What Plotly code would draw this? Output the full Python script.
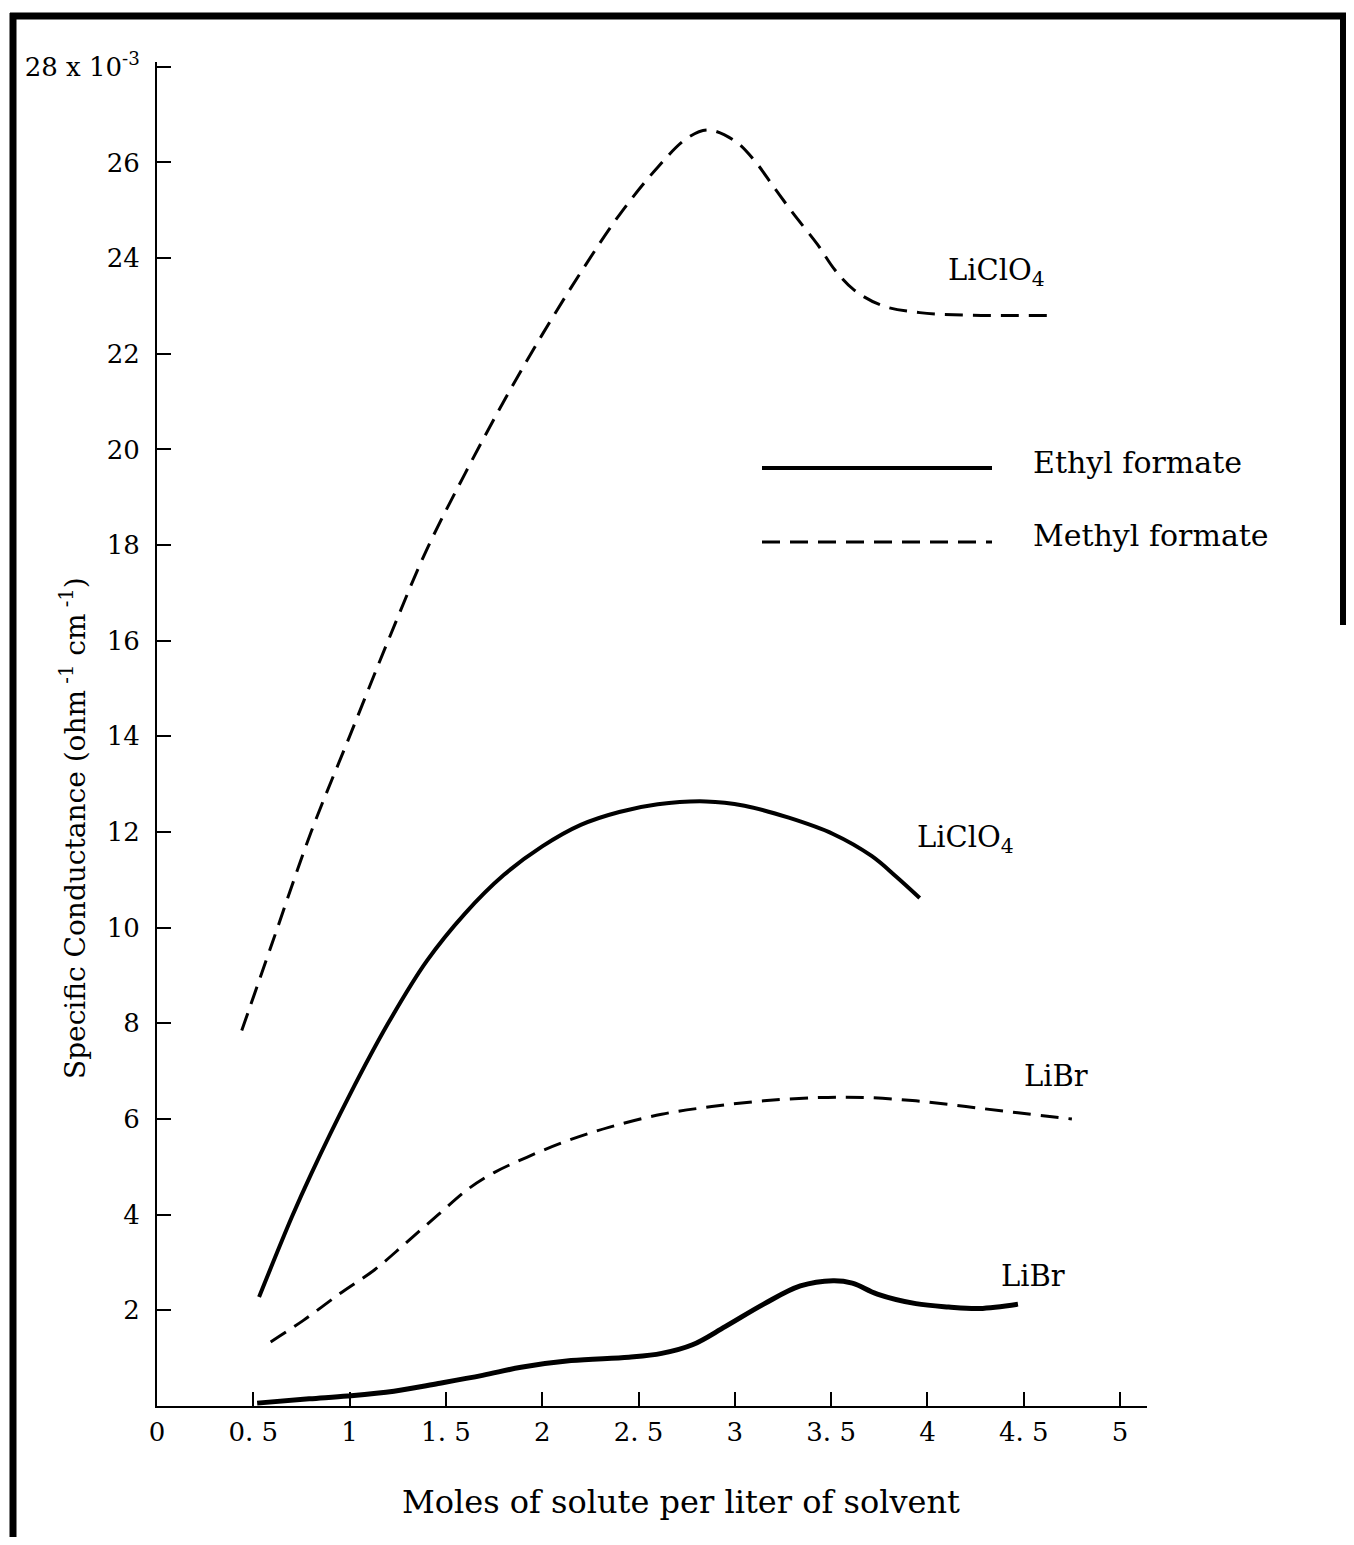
import plotly.graph_objects as go

# ---- data (x: moles of solute per liter, y: specific conductance x 1e-3) ----
methyl_liclo4_x = [0.44, 0.60, 0.80, 1.00, 1.20, 1.40, 1.60, 1.80, 2.00, 2.20, 2.40, 2.60, 2.75, 2.86, 3.00, 3.10, 3.20, 3.30, 3.43, 3.52, 3.62, 3.77, 3.96, 4.20, 4.65]
methyl_liclo4_y = [7.85, 9.7, 12.0, 14.0, 16.0, 17.9, 19.5, 21.0, 22.4, 23.7, 24.9, 25.9, 26.5, 26.68, 26.45, 26.05, 25.5, 24.95, 24.28, 23.75, 23.33, 23.0, 22.86, 22.81, 22.8]

ethyl_liclo4_x = [0.53, 0.70, 0.80, 1.00, 1.20, 1.40, 1.60, 1.80, 2.00, 2.20, 2.40, 2.60, 2.85, 3.05, 3.28, 3.51, 3.71, 3.84, 3.96]
ethyl_liclo4_y = [2.28, 3.95, 4.85, 6.5, 8.0, 9.3, 10.3, 11.1, 11.7, 12.15, 12.42, 12.58, 12.64, 12.55, 12.3, 11.96, 11.5, 11.06, 10.62]

methyl_libr_x = [0.59, 0.76, 0.96, 1.13, 1.29, 1.46, 1.62, 1.75, 1.92, 2.12, 2.35, 2.62, 2.88, 3.15, 3.44, 3.68, 3.94, 4.20, 4.47, 4.75]
methyl_libr_y = [1.34, 1.79, 2.38, 2.85, 3.4, 4.0, 4.55, 4.88, 5.2, 5.53, 5.83, 6.1, 6.26, 6.38, 6.45, 6.45, 6.38, 6.26, 6.13, 6.0]

ethyl_libr_x = [0.52, 0.79, 0.99, 1.23, 1.46, 1.69, 1.89, 2.15, 2.45, 2.62, 2.78, 2.95, 3.15, 3.34, 3.51, 3.61, 3.74, 3.94, 4.11, 4.27, 4.47]
ethyl_libr_y = [0.06, 0.15, 0.21, 0.31, 0.47, 0.64, 0.81, 0.95, 1.02, 1.1, 1.28, 1.66, 2.13, 2.51, 2.62, 2.57, 2.34, 2.14, 2.07, 2.04, 2.13]

x_tickvals = [0, 0.5, 1, 1.5, 2, 2.5, 3, 3.5, 4, 4.5, 5]
x_ticktext = ["0", "0. 5", "1", "1. 5", "2", "2. 5", "3", "3. 5", "4", "4. 5", "5"]
y_tickvals = [2, 4, 6, 8, 10, 12, 14, 16, 18, 20, 22, 24, 26, 28]
y_ticktext = ["2", "4", "6", "8", "10", "12", "14", "16", "18", "20", "22", "24", "26", "28 x 10<sup>-3</sup>"]

curve_labels = [
    ("LiClO<sub>4</sub>", 4.36, 23.7),
    ("LiClO<sub>4</sub>", 4.20, 11.85),
    ("LiBr", 4.67, 6.9),
    ("LiBr", 4.55, 2.72),
]

FONT = "DejaVu Serif"
OFF = 8  # page body margin
W, H = 1354 - OFF, 1545 - 2 * OFF
L, T = 157 - OFF, 62 - OFF
R = W - (1147 - OFF)
B = H - (1406 - OFF)
PW, PH = W - L - R, H - T - B


def px(x):
    return (x - OFF - L) / PW


def py(y):
    return (H - B - (y - OFF)) / PH


fig = go.Figure()

dash = "18px,10px"
fig.add_trace(go.Scatter(x=methyl_liclo4_x, y=methyl_liclo4_y, mode="lines",
                         line=dict(color="black", width=3, dash=dash, shape="spline", smoothing=1.0)))
fig.add_trace(go.Scatter(x=methyl_libr_x, y=methyl_libr_y, mode="lines",
                         line=dict(color="black", width=3, dash=dash, shape="spline", smoothing=1.0)))
fig.add_trace(go.Scatter(x=ethyl_liclo4_x, y=ethyl_liclo4_y, mode="lines",
                         line=dict(color="black", width=4, shape="spline", smoothing=1.0)))
fig.add_trace(go.Scatter(x=ethyl_libr_x, y=ethyl_libr_y, mode="lines",
                         line=dict(color="black", width=5, shape="spline", smoothing=1.0)))

for txt, x, y in curve_labels:
    fig.add_annotation(x=x, y=y, text=txt, showarrow=False,
                       font=dict(family=FONT, size=29, color="black"), xanchor="center")

# legend samples
fig.add_shape(type="line", xref="paper", yref="paper", x0=px(762), x1=px(992), y0=py(468), y1=py(468),
              line=dict(color="black", width=4))
fig.add_shape(type="line", xref="paper", yref="paper", x0=px(762), x1=px(992), y0=py(542), y1=py(542),
              line=dict(color="black", width=3, dash=dash))
fig.add_annotation(xref="paper", yref="paper", x=px(1031), y=py(462), text="Ethyl formate", showarrow=False,
                   xanchor="left", yanchor="middle", font=dict(family=FONT, size=30, color="black"))
fig.add_annotation(xref="paper", yref="paper", x=px(1031), y=py(535), text="Methyl formate", showarrow=False,
                   xanchor="left", yanchor="middle", font=dict(family=FONT, size=30, color="black"))

# axis titles
fig.add_annotation(xref="paper", yref="paper", x=px(681), y=py(1502),
                   text="Moles of solute per liter of solvent", showarrow=False,
                   xanchor="center", yanchor="middle", font=dict(family=FONT, size=32, color="black"))
fig.add_annotation(xref="paper", yref="paper", x=px(73), y=py(828), textangle=-90,
                   text="Specific Conductance (ohm<sup> -1</sup> cm<sup> -1</sup>)", showarrow=False,
                   xanchor="center", yanchor="middle", font=dict(family=FONT, size=28, color="black"))

# outer frame
frame = dict(color="black", width=7)
fig.add_shape(type="line", xref="paper", yref="paper", x0=px(13), x1=px(13), y0=py(13), y1=py(1545), line=frame)
fig.add_shape(type="line", xref="paper", yref="paper", x0=px(10), x1=px(1346), y0=py(16), y1=py(16), line=frame)
fig.add_shape(type="line", xref="paper", yref="paper", x0=px(1343), x1=px(1343), y0=py(13), y1=py(625),
              line=dict(color="black", width=6))

fig.update_layout(
    width=W, height=H,
    margin=dict(l=L, r=R, t=T, b=B, autoexpand=False),
    paper_bgcolor="white", plot_bgcolor="white",
    showlegend=False,
    font=dict(family=FONT, color="black"),
)
fig.update_xaxes(range=[0, 5.14], tickvals=x_tickvals, ticktext=x_ticktext,
                 ticks="inside", ticklen=14, tickwidth=2, tickcolor="black", automargin=False,
                 showline=True, linecolor="black", linewidth=2, showgrid=False, zeroline=False,
                 tickfont=dict(family=FONT, size=26), ticklabelstandoff=2)
fig.update_yaxes(range=[0, 28.1], tickvals=y_tickvals, ticktext=y_ticktext,
                 ticks="inside", ticklen=14, tickwidth=2, tickcolor="black", automargin=False,
                 showline=True, linecolor="black", linewidth=2, showgrid=False, zeroline=False,
                 tickfont=dict(family=FONT, size=26), ticklabelstandoff=10)

fig.write_html("out.html")
